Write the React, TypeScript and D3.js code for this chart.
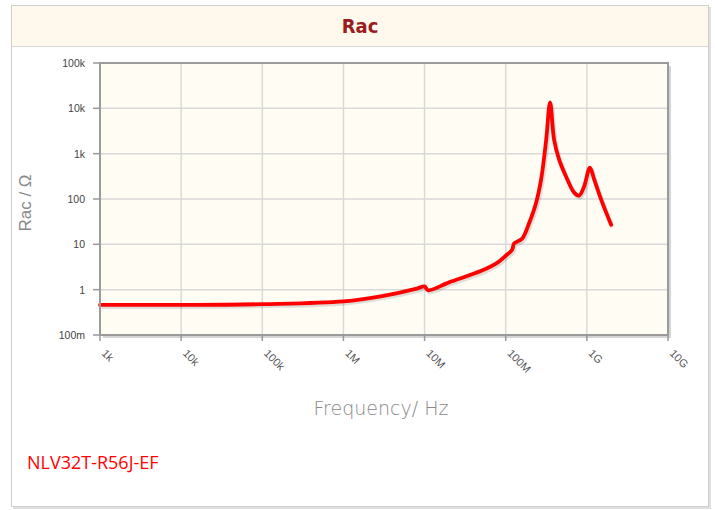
import * as d3 from "d3";
import React from "react";

// Rac vs frequency
const freqHz = [
  1e3, 3e3, 1e4, 1e5, 1e6, 3e6, 8e6, 1e7, 1.1e7, 2e7, 5e7, 8e7, 1e8, 1.2e8,
  1.27e8, 1.6e8, 1.95e8, 2.37e8, 2.73e8, 3.15e8, 3.52e8, 3.95e8, 4.55e8,
  5.55e8, 6.97e8, 8.02e8, 9.24e8, 1.09e9, 1.23e9, 1.5e9, 1.99e9,
];
const racOhm = [
  0.46, 0.46, 0.46, 0.48, 0.55, 0.72, 1.05, 1.18, 0.97, 1.45, 2.6, 4.0, 5.6,
  7.6, 10.5, 13.5, 30, 83, 270, 2000, 13500, 2000, 740, 310, 138, 119, 188,
  490, 270, 97, 27,
];

const xTicks = [1e3, 1e4, 1e5, 1e6, 1e7, 1e8, 1e9, 1e10];
const xTickLabels = ["1k", "10k", "100k", "1M", "10M", "100M", "1G", "10G"];
const yTicks = [0.1, 1, 10, 100, 1e3, 1e4, 1e5];
const yTickLabels = ["100m", "1", "10", "100", "1k", "10k", "100k"];

const title = "Rac";
const xTitle = "Frequency/ Hz";
const yTitle = "Rac / Ω";
const partName = "NLV32T-R56J-EF";

export default function App() {
  const width = 715;
  const height = 510;
  const plot = { left: 100, right: 668, top: 63, bottom: 335 };

  const x = d3.scaleLog().domain([1e3, 1e10]).range([plot.left, plot.right]);
  const y = d3.scaleLog().domain([0.1, 1e5]).range([plot.bottom, plot.top]);

  const pts: [number, number][] = freqHz.map((f, i) => [f, racOhm[i]]);
  const line = d3
    .line<[number, number]>()
    .x((d) => x(d[0]))
    .y((d) => y(d[1]))
    .curve(d3.curveCatmullRom.alpha(0.5));
  const path = line(pts) || "";

  const tickFont = "'Liberation Sans', Arial, sans-serif";
  const titleFont = "'DejaVu Sans', sans-serif";

  return (
    <div style={{ position: "absolute", left: 0, top: 0 }}>
      <svg width={width} height={height} style={{ display: "block" }}>
        {/* outer panel */}
        <rect x={13} y={7} width={698} height={502} fill="#e0e0e0" />
        <rect x={11.5} y={5.5} width={697} height={501} fill="#fff" stroke="#cfcfcf" />
        <rect x={12} y={6} width={696} height={40} fill="#fef9ec" />
        <line x1={12} x2={708} y1={46.5} y2={46.5} stroke="#d6d6d6" />
        <text
          x={360}
          y={33}
          textAnchor="middle"
          fontFamily="'DejaVu Sans Condensed', 'DejaVu Sans', sans-serif"
          fontWeight="bold"
          fontSize={20}
          fill="#9b1d1d"
        >
          {title}
        </text>

        {/* plot area with shadow */}
        <rect
          x={plot.left + 3}
          y={plot.top + 3}
          width={plot.right - plot.left}
          height={plot.bottom - plot.top}
          fill="#d4d4d4"
        />
        <rect
          x={plot.left}
          y={plot.top}
          width={plot.right - plot.left}
          height={plot.bottom - plot.top}
          fill="#fffcf4"
        />

        {/* grid */}
        <g stroke="#d9d9d9" strokeWidth={1.5}>
          {xTicks.map((t) => (
            <line key={"gx" + t} x1={x(t)} x2={x(t)} y1={plot.top} y2={plot.bottom} />
          ))}
          {yTicks.map((t) => (
            <line key={"gy" + t} x1={plot.left} x2={plot.right} y1={y(t)} y2={y(t)} />
          ))}
        </g>

        {/* tick marks */}
        <g stroke="#999" strokeWidth={1.5}>
          {xTicks.map((t) => (
            <line key={"tx" + t} x1={x(t)} x2={x(t)} y1={plot.bottom} y2={plot.bottom + 6} />
          ))}
          {yTicks.map((t) => (
            <line key={"ty" + t} x1={plot.left - 7} x2={plot.left} y1={y(t)} y2={y(t)} />
          ))}
        </g>

        {/* curve with soft shadow */}
        <path d={path} fill="none" stroke="rgba(0,0,0,0.12)" strokeWidth={4} transform="translate(1.5,2)" strokeLinejoin="round" />
        <path d={path} fill="none" stroke="#ff0000" strokeWidth={3.8} strokeLinejoin="round" strokeLinecap="round" />

        {/* frame */}
        <rect
          x={plot.left}
          y={plot.top}
          width={plot.right - plot.left}
          height={plot.bottom - plot.top}
          fill="none"
          stroke="#9a9a9a"
          strokeWidth={2}
        />

        {/* y tick labels */}
        <g fontFamily={tickFont} fontSize={10.5} fill="#444" textAnchor="end">
          {yTicks.map((t, i) => (
            <text key={"ly" + t} x={plot.left - 15} y={y(t) + 4}>
              {yTickLabels[i]}
            </text>
          ))}
        </g>

        {/* x tick labels, rotated */}
        <g fontFamily={tickFont} fontSize={11} fill="#555">
          {xTicks.map((t, i) => (
            <text
              key={"lx" + t}
              transform={`translate(${x(t) + 1},${plot.bottom + 19}) rotate(45)`}
              textAnchor="start"
            >
              {xTickLabels[i]}
            </text>
          ))}
        </g>

        {/* axis titles */}
        <text
          transform={`translate(31,203) rotate(-90)`}
          textAnchor="middle"
          fontFamily={tickFont}
          fontSize={17}
          fill="#888"
        >
          {yTitle}
        </text>
        <text
          x={381}
          y={415}
          textAnchor="middle"
          fontFamily={titleFont}
          fontWeight={300}
          fontSize={19}
          fill="#888"
        >
          {xTitle}
        </text>

        <text
          x={27}
          y={469}
          fontFamily="'Open Sans', 'Noto Sans', sans-serif"
          fontSize={18}
          fill="#ff0000"
        >
          {partName}
        </text>
      </svg>
    </div>
  );
}
